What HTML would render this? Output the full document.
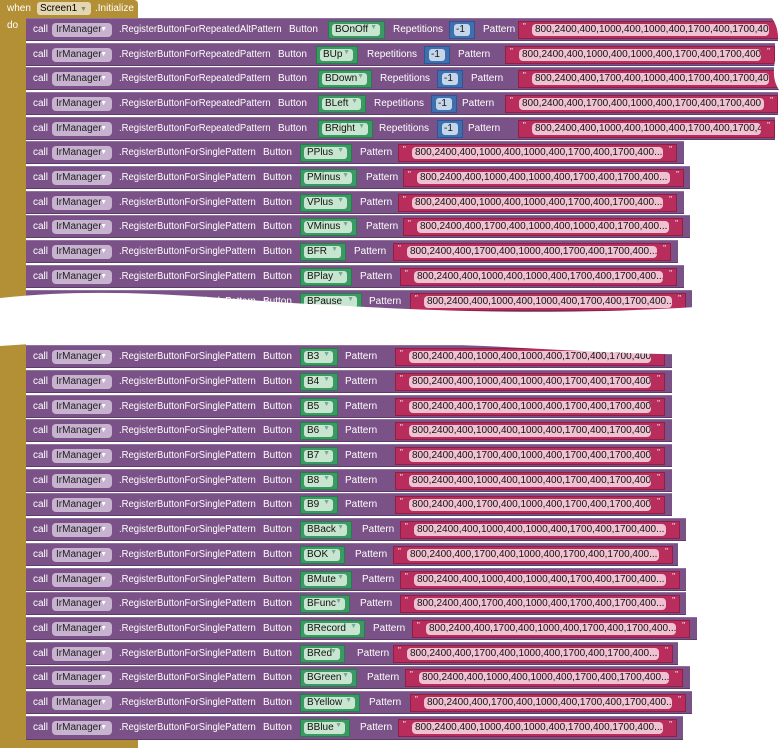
<!DOCTYPE html><html><head><meta charset="utf-8"><style>
body{margin:0;width:783px;height:750px;background:#fff;position:relative;overflow:hidden;font-family:"Liberation Sans",Arial,sans-serif;font-size:10px;}
.y{position:absolute;background:#b38f35;}
.r{position:absolute;left:26px;height:23px;background:#7b5287;border-bottom:1px solid #5e3c6a;border-top:1px solid #9472a0;box-sizing:border-box;}
.r span{position:absolute;white-space:nowrap;}
.t{color:#fff;top:5px;}
.m{transform:scaleX(.95);transform-origin:0 0}
.ir{left:26px;top:4px;width:60px;height:14px;background:#c7b3cf;border-radius:4px;color:#222;line-height:14px;padding-left:4px;box-sizing:border-box;font-size:10px}
.ir b{font-weight:normal;color:#fff;font-size:7px;position:absolute;right:5px}
.g{top:2px;height:18px;background:#3a9a63;border:1px solid #2b7a4c;box-sizing:border-box;}
.g i,.b i{font-style:normal;position:absolute;left:3px;top:2px;right:4px;height:12px;background:#c8e6cf;border-radius:3px;color:#111;line-height:12px;padding-left:3px;}
.g b{font-weight:normal;color:#7a9;font-size:7px;position:absolute;right:7px}
.b{top:2px;width:26px;height:18px;background:#3e6fae;border:1px solid #2c5690;box-sizing:border-box;}
.b i{left:4px;right:4px;padding-left:2px;background:#c6d6ea}
.s{top:2px;height:18px;background:#b92d5c;border:1px solid #8f1f45;box-sizing:border-box;color:#fff;}
.s i{font-style:normal;position:absolute;left:13px;right:13px;top:2px;height:12px;background:#f0c2d1;border-radius:4px;color:#111;line-height:12px;padding-left:3px;overflow:hidden}
.s:before,.s:after{content:'"';position:absolute;top:0;font-size:8px;color:#fff}
.s:before{left:4px}.s:after{right:4px}
</style></head><body>
<div class="y" style="left:0;top:0;width:138px;height:18px;border-radius:0 4px 0 0"></div>
<div class="y" style="left:0;top:0;width:26px;height:748px"></div>
<div class="y" style="left:0;top:737px;width:138px;height:11px"></div>
<span style="position:absolute;left:7px;top:3px;color:#fff;font-size:10px">when</span>
<span style="position:absolute;left:37px;top:2px;width:54px;height:13px;background:#e4d6b0;border-radius:3px;font-size:10px;line-height:13px;padding-left:3px;box-sizing:border-box">Screen1 <b style="font-weight:normal;font-size:7px;color:#887">▼</b></span>
<span style="position:absolute;left:95px;top:3px;color:#fff;font-size:10px">.Initialize</span>
<span style="position:absolute;left:7px;top:20px;color:#fff;font-size:10px">do</span>

<div class="r" style="top:18px;width:757px"><span class="t" style="left:7px">call</span><span class="ir">IrManager<b>▼</b></span><span class="t m" style="left:93px">.RegisterButtonForRepeatedAltPattern</span><span class="t" style="left:263px">Button</span><span class="g" style="left:302px;width:57px"><i>BOnOff</i><b style="top:2px">▼</b></span><span class="t" style="left:367px">Repetitions</span><span class="b" style="left:423px"><i>-1</i></span><span class="t" style="left:457px">Pattern</span><span class="s" style="left:492px;width:265px"><i>800,2400,400,1000,400,1000,400,1700,400,1700,400...</i></span></div>
<div class="r" style="top:43px;width:749px"><span class="t" style="left:7px">call</span><span class="ir">IrManager<b>▼</b></span><span class="t m" style="left:93px">.RegisterButtonForRepeatedPattern</span><span class="t" style="left:252px">Button</span><span class="g" style="left:290px;width:42px"><i>BUp</i><b style="top:2px">▼</b></span><span class="t" style="left:341px">Repetitions</span><span class="b" style="left:398px"><i>-1</i></span><span class="t" style="left:432px">Pattern</span><span class="s" style="left:479px;width:270px"><i>800,2400,400,1000,400,1000,400,1700,400,1700,400...</i></span></div>
<div class="r" style="top:67px;width:757px"><span class="t" style="left:7px">call</span><span class="ir">IrManager<b>▼</b></span><span class="t m" style="left:93px">.RegisterButtonForRepeatedPattern</span><span class="t" style="left:252px">Button</span><span class="g" style="left:292px;width:54px"><i>BDown</i><b style="top:2px">▼</b></span><span class="t" style="left:354px">Repetitions</span><span class="b" style="left:411px"><i>-1</i></span><span class="t" style="left:445px">Pattern</span><span class="s" style="left:492px;width:265px"><i>800,2400,400,1700,400,1000,400,1700,400,1700,400.</i></span></div>
<div class="r" style="top:92px;width:752px"><span class="t" style="left:7px">call</span><span class="ir">IrManager<b>▼</b></span><span class="t m" style="left:93px">.RegisterButtonForRepeatedPattern</span><span class="t" style="left:252px">Button</span><span class="g" style="left:292px;width:48px"><i>BLeft</i><b style="top:2px">▼</b></span><span class="t" style="left:348px">Repetitions</span><span class="b" style="left:405px"><i>-1</i></span><span class="t" style="left:436px">Pattern</span><span class="s" style="left:479px;width:273px"><i>800,2400,400,1700,400,1000,400,1700,400,1700,400</i></span></div>
<div class="r" style="top:117px;width:749px"><span class="t" style="left:7px">call</span><span class="ir">IrManager<b>▼</b></span><span class="t m" style="left:93px">.RegisterButtonForRepeatedPattern</span><span class="t" style="left:252px">Button</span><span class="g" style="left:292px;width:55px"><i>BRight</i><b style="top:2px">▼</b></span><span class="t" style="left:353px">Repetitions</span><span class="b" style="left:411px"><i>-1</i></span><span class="t" style="left:442px">Pattern</span><span class="s" style="left:492px;width:257px"><i>800,2400,400,1000,400,1000,400,1700,400,1700,400</i></span></div>

<div class="r" style="top:141px;width:658px"><span class="t" style="left:7px">call</span><span class="ir">IrManager<b>▼</b></span><span class="t m" style="left:93px">.RegisterButtonForSinglePattern</span><span class="t" style="left:237px">Button</span><span class="g" style="left:274px;width:52px"><i>PPlus</i><b style="top:2px">▼</b></span><span class="t" style="left:334px">Pattern</span><span class="s" style="left:372px;width:279px"><i>800,2400,400,1000,400,1000,400,1700,400,1700,400...</i></span></div>
<div class="r" style="top:166px;width:664px"><span class="t" style="left:7px">call</span><span class="ir">IrManager<b>▼</b></span><span class="t m" style="left:93px">.RegisterButtonForSinglePattern</span><span class="t" style="left:237px">Button</span><span class="g" style="left:274px;width:57px"><i>PMinus</i><b style="top:2px">▼</b></span><span class="t" style="left:340px">Pattern</span><span class="s" style="left:377px;width:281px"><i>800,2400,400,1000,400,1000,400,1700,400,1700,400...</i></span></div>
<div class="r" style="top:191px;width:658px"><span class="t" style="left:7px">call</span><span class="ir">IrManager<b>▼</b></span><span class="t m" style="left:93px">.RegisterButtonForSinglePattern</span><span class="t" style="left:237px">Button</span><span class="g" style="left:274px;width:52px"><i>VPlus</i><b style="top:2px">▼</b></span><span class="t" style="left:334px">Pattern</span><span class="s" style="left:372px;width:279px"><i>800,2400,400,1000,400,1000,400,1700,400,1700,400...</i></span></div>
<div class="r" style="top:215px;width:664px"><span class="t" style="left:7px">call</span><span class="ir">IrManager<b>▼</b></span><span class="t m" style="left:93px">.RegisterButtonForSinglePattern</span><span class="t" style="left:237px">Button</span><span class="g" style="left:274px;width:57px"><i>VMinus</i><b style="top:2px">▼</b></span><span class="t" style="left:340px">Pattern</span><span class="s" style="left:377px;width:280px"><i>800,2400,400,1700,400,1000,400,1000,400,1700,400...</i></span></div>
<div class="r" style="top:240px;width:652px"><span class="t" style="left:7px">call</span><span class="ir">IrManager<b>▼</b></span><span class="t m" style="left:93px">.RegisterButtonForSinglePattern</span><span class="t" style="left:237px">Button</span><span class="g" style="left:274px;width:46px"><i>BFR</i><b style="top:2px">▼</b></span><span class="t" style="left:328px">Pattern</span><span class="s" style="left:367px;width:278px"><i>800,2400,400,1700,400,1000,400,1700,400,1700,400...</i></span></div>
<div class="r" style="top:265px;width:658px"><span class="t" style="left:7px">call</span><span class="ir">IrManager<b>▼</b></span><span class="t m" style="left:93px">.RegisterButtonForSinglePattern</span><span class="t" style="left:237px">Button</span><span class="g" style="left:274px;width:52px"><i>BPlay</i><b style="top:2px">▼</b></span><span class="t" style="left:334px">Pattern</span><span class="s" style="left:374px;width:277px"><i>800,2400,400,1000,400,1000,400,1700,400,1700,400...</i></span></div>
<div class="r" style="top:290px;width:666px"><span class="t" style="left:7px">call</span><span class="ir">IrManager<b>▼</b></span><span class="t m" style="left:93px">.RegisterButtonForSinglePattern</span><span class="t" style="left:237px">Button</span><span class="g" style="left:274px;width:62px"><i>BPause</i><b style="top:2px">▼</b></span><span class="t" style="left:343px">Pattern</span><span class="s" style="left:384px;width:276px"><i>800,2400,400,1000,400,1000,400,1700,400,1700,400...</i></span></div>

<div class="r" style="top:345px;width:646px"><span class="t" style="left:7px">call</span><span class="ir">IrManager<b>▼</b></span><span class="t m" style="left:93px">.RegisterButtonForSinglePattern</span><span class="t" style="left:237px">Button</span><span class="g" style="left:274px;width:38px"><i>B3</i><b style="top:2px">▼</b></span><span class="t" style="left:319px">Pattern</span><span class="s" style="left:369px;width:270px"><i>800,2400,400,1000,400,1000,400,1700,400,1700,400...</i></span></div>
<div class="r" style="top:370px;width:646px"><span class="t" style="left:7px">call</span><span class="ir">IrManager<b>▼</b></span><span class="t m" style="left:93px">.RegisterButtonForSinglePattern</span><span class="t" style="left:237px">Button</span><span class="g" style="left:274px;width:38px"><i>B4</i><b style="top:2px">▼</b></span><span class="t" style="left:319px">Pattern</span><span class="s" style="left:369px;width:270px"><i>800,2400,400,1000,400,1000,400,1700,400,1700,400...</i></span></div>
<div class="r" style="top:395px;width:646px"><span class="t" style="left:7px">call</span><span class="ir">IrManager<b>▼</b></span><span class="t m" style="left:93px">.RegisterButtonForSinglePattern</span><span class="t" style="left:237px">Button</span><span class="g" style="left:274px;width:38px"><i>B5</i><b style="top:2px">▼</b></span><span class="t" style="left:319px">Pattern</span><span class="s" style="left:369px;width:270px"><i>800,2400,400,1700,400,1000,400,1700,400,1700,400...</i></span></div>
<div class="r" style="top:419px;width:646px"><span class="t" style="left:7px">call</span><span class="ir">IrManager<b>▼</b></span><span class="t m" style="left:93px">.RegisterButtonForSinglePattern</span><span class="t" style="left:237px">Button</span><span class="g" style="left:274px;width:38px"><i>B6</i><b style="top:2px">▼</b></span><span class="t" style="left:319px">Pattern</span><span class="s" style="left:369px;width:270px"><i>800,2400,400,1000,400,1000,400,1700,400,1700,400...</i></span></div>
<div class="r" style="top:444px;width:646px"><span class="t" style="left:7px">call</span><span class="ir">IrManager<b>▼</b></span><span class="t m" style="left:93px">.RegisterButtonForSinglePattern</span><span class="t" style="left:237px">Button</span><span class="g" style="left:274px;width:38px"><i>B7</i><b style="top:2px">▼</b></span><span class="t" style="left:319px">Pattern</span><span class="s" style="left:369px;width:270px"><i>800,2400,400,1700,400,1000,400,1700,400,1700,400...</i></span></div>
<div class="r" style="top:469px;width:646px"><span class="t" style="left:7px">call</span><span class="ir">IrManager<b>▼</b></span><span class="t m" style="left:93px">.RegisterButtonForSinglePattern</span><span class="t" style="left:237px">Button</span><span class="g" style="left:274px;width:38px"><i>B8</i><b style="top:2px">▼</b></span><span class="t" style="left:319px">Pattern</span><span class="s" style="left:369px;width:270px"><i>800,2400,400,1000,400,1000,400,1700,400,1700,400...</i></span></div>
<div class="r" style="top:493px;width:646px"><span class="t" style="left:7px">call</span><span class="ir">IrManager<b>▼</b></span><span class="t m" style="left:93px">.RegisterButtonForSinglePattern</span><span class="t" style="left:237px">Button</span><span class="g" style="left:274px;width:38px"><i>B9</i><b style="top:2px">▼</b></span><span class="t" style="left:319px">Pattern</span><span class="s" style="left:369px;width:270px"><i>800,2400,400,1700,400,1000,400,1700,400,1700,400...</i></span></div>
<div class="r" style="top:518px;width:660px"><span class="t" style="left:7px">call</span><span class="ir">IrManager<b>▼</b></span><span class="t m" style="left:93px">.RegisterButtonForSinglePattern</span><span class="t" style="left:237px">Button</span><span class="g" style="left:274px;width:52px"><i>BBack</i><b style="top:2px">▼</b></span><span class="t" style="left:336px">Pattern</span><span class="s" style="left:374px;width:280px"><i>800,2400,400,1000,400,1000,400,1700,400,1700,400...</i></span></div>
<div class="r" style="top:543px;width:652px"><span class="t" style="left:7px">call</span><span class="ir">IrManager<b>▼</b></span><span class="t m" style="left:93px">.RegisterButtonForSinglePattern</span><span class="t" style="left:237px">Button</span><span class="g" style="left:274px;width:45px"><i>BOK</i><b style="top:2px">▼</b></span><span class="t" style="left:329px">Pattern</span><span class="s" style="left:367px;width:280px"><i>800,2400,400,1700,400,1000,400,1700,400,1700,400...</i></span></div>
<div class="r" style="top:568px;width:660px"><span class="t" style="left:7px">call</span><span class="ir">IrManager<b>▼</b></span><span class="t m" style="left:93px">.RegisterButtonForSinglePattern</span><span class="t" style="left:237px">Button</span><span class="g" style="left:274px;width:52px"><i>BMute</i><b style="top:2px">▼</b></span><span class="t" style="left:336px">Pattern</span><span class="s" style="left:374px;width:280px"><i>800,2400,400,1000,400,1000,400,1700,400,1700,400...</i></span></div>
<div class="r" style="top:592px;width:660px"><span class="t" style="left:7px">call</span><span class="ir">IrManager<b>▼</b></span><span class="t m" style="left:93px">.RegisterButtonForSinglePattern</span><span class="t" style="left:237px">Button</span><span class="g" style="left:274px;width:50px"><i>BFunc</i><b style="top:2px">▼</b></span><span class="t" style="left:334px">Pattern</span><span class="s" style="left:374px;width:280px"><i>800,2400,400,1700,400,1000,400,1700,400,1700,400...</i></span></div>
<div class="r" style="top:617px;width:671px"><span class="t" style="left:7px">call</span><span class="ir">IrManager<b>▼</b></span><span class="t m" style="left:93px">.RegisterButtonForSinglePattern</span><span class="t" style="left:237px">Button</span><span class="g" style="left:274px;width:65px"><i>BRecord</i><b style="top:2px">▼</b></span><span class="t" style="left:347px">Pattern</span><span class="s" style="left:386px;width:278px"><i>800,2400,400,1700,400,1000,400,1700,400,1700,400...</i></span></div>
<div class="r" style="top:642px;width:652px"><span class="t" style="left:7px">call</span><span class="ir">IrManager<b>▼</b></span><span class="t m" style="left:93px">.RegisterButtonForSinglePattern</span><span class="t" style="left:237px">Button</span><span class="g" style="left:274px;width:45px"><i>BRed</i><b style="top:2px">▼</b></span><span class="t" style="left:331px">Pattern</span><span class="s" style="left:367px;width:280px"><i>800,2400,400,1700,400,1000,400,1700,400,1700,400...</i></span></div>
<div class="r" style="top:666px;width:664px"><span class="t" style="left:7px">call</span><span class="ir">IrManager<b>▼</b></span><span class="t m" style="left:93px">.RegisterButtonForSinglePattern</span><span class="t" style="left:237px">Button</span><span class="g" style="left:274px;width:57px"><i>BGreen</i><b style="top:2px">▼</b></span><span class="t" style="left:341px">Pattern</span><span class="s" style="left:379px;width:278px"><i>800,2400,400,1000,400,1000,400,1700,400,1700,400...</i></span></div>
<div class="r" style="top:691px;width:666px"><span class="t" style="left:7px">call</span><span class="ir">IrManager<b>▼</b></span><span class="t m" style="left:93px">.RegisterButtonForSinglePattern</span><span class="t" style="left:237px">Button</span><span class="g" style="left:274px;width:60px"><i>BYellow</i><b style="top:2px">▼</b></span><span class="t" style="left:343px">Pattern</span><span class="s" style="left:384px;width:276px"><i>800,2400,400,1700,400,1000,400,1700,400,1700,400...</i></span></div>
<div class="r" style="top:716px;width:657px;height:24px"><span class="t" style="left:7px">call</span><span class="ir">IrManager<b>▼</b></span><span class="t m" style="left:93px">.RegisterButtonForSinglePattern</span><span class="t" style="left:237px">Button</span><span class="g" style="left:274px;width:50px"><i>BBlue</i><b style="top:2px">▼</b></span><span class="t" style="left:334px">Pattern</span><span class="s" style="left:372px;width:279px"><i>800,2400,400,1000,400,1000,400,1700,400,1700,400...</i></span></div>

<svg style="position:absolute;left:0;top:0" width="783" height="750">
<path d="M0,298 C120,285 220,300 330,305 C450,312 600,318 783,300 L783,352 C650,360 520,345 400,343 C250,340 150,335 0,346 Z" fill="#fff"/>
<path d="M772,18 C790,45 760,70 783,95 C770,110 790,125 783,145 L783,0 Z" fill="#fff"/>
</svg>
</body></html>
